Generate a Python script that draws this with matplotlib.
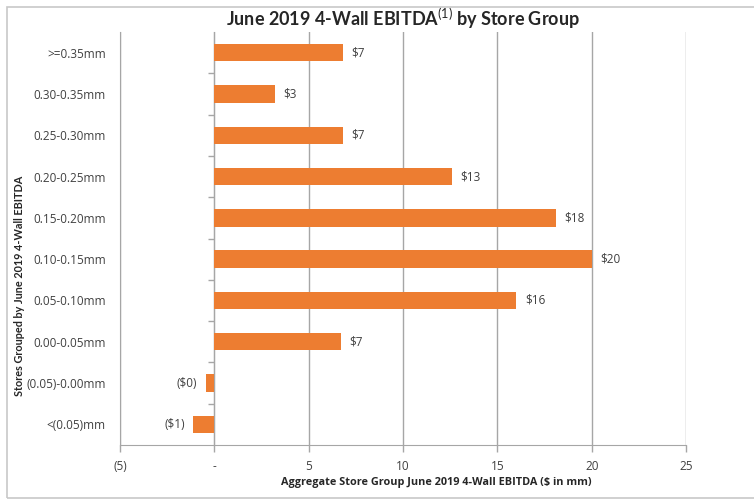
import matplotlib
matplotlib.use("Agg")
import matplotlib.pyplot as plt
from matplotlib.patches import Rectangle
from matplotlib.ticker import FuncFormatter

plt.rcParams['font.family'] = ['Open Sans', 'DejaVu Sans']
plt.rcParams['mathtext.fontset'] = 'custom'
plt.rcParams['mathtext.rm'] = 'Lato'
plt.rcParams['mathtext.bf'] = 'Lato:bold'

# store groups (top to bottom) and aggregate 4-wall EBITDA, $mm
groups = [">=0.35mm", "0.30-0.35mm", "0.25-0.30mm", "0.20-0.25mm", "0.15-0.20mm",
          "0.10-0.15mm", "0.05-0.10mm", "0.00-0.05mm", "(0.05)-0.00mm", "<(0.05)mm"]
ebitda = [6.8, 3.2, 6.8, 12.6, 18.1, 20.0, 16.0, 6.7, -0.45, -1.1]
x_ticks = [-5, 0, 5, 10, 15, 20, 25]

bar_color = '#ED7D31'
grid_color = '#A6A6A6'
text_color = '#404040'


def money(v):
    # accounting style: negatives in parentheses
    if v < 0:
        return "(${})".format(abs(round(v)))
    return "${}".format(round(v))


def tick_fmt(v, pos):
    if v < 0:
        return "({})".format(int(abs(v)))
    if v == 0:
        return "-"
    return str(int(v))


fig = plt.figure(figsize=(7.54, 5.0), dpi=100)
ax = fig.add_axes([0.159, 0.11, 0.751, 0.826])

# outer chart frame
fig.patches.append(Rectangle((0.009, 0.004), 0.995, 0.982, transform=fig.transFigure,
                             fill=False, edgecolor='#C8C8C8', linewidth=1.2))

pos = list(range(len(groups)))
ax.barh(pos, ebitda, height=0.42, color=bar_color, zorder=3)

for y, v in zip(pos, ebitda):
    if v < 0:
        ax.text(v - 0.45, y, money(v), ha='right', va='center', fontsize=8.5, color=text_color)
    else:
        ax.text(v + 0.45, y, money(v), ha='left', va='center', fontsize=8.5, color=text_color)

ax.set_xlim(-5, 25)
ax.set_ylim(len(groups) - 0.5, -0.5)
ax.set_xticks(x_ticks)
ax.xaxis.set_major_formatter(FuncFormatter(tick_fmt))
ax.set_yticks(pos)
ax.set_yticklabels(groups)

ax.grid(axis='x', color=grid_color, linewidth=1.0, zorder=0)
for s in ['top', 'right']:
    ax.spines[s].set_visible(False)
ax.spines['left'].set_color(grid_color)
ax.spines['bottom'].set_color(grid_color)

ax.tick_params(axis='y', length=0, pad=10, labelsize=8.5, labelcolor=text_color)
ax.tick_params(axis='x', length=5, width=1, color=grid_color, pad=6,
               labelsize=8.5, labelcolor=text_color)

# category axis crossing at zero, with ticks between groups
zero_frac = (0 - x_ticks[0]) / (x_ticks[-1] - x_ticks[0])
sec = ax.secondary_yaxis(zero_frac)
sec.spines['left'].set_color(grid_color)
sec.set_yticks([p + 0.5 for p in pos[:-1]])
sec.set_yticklabels([])
sec.tick_params(axis='y', length=4, width=1, color=grid_color, direction='out')

ax.set_title("June 2019 4-Wall EBITDA$^{(1)}$ by Store Group", fontsize=13,
             fontweight='bold', color='#262626', pad=2, family=['Lato', 'DejaVu Sans'])
ax.set_xlabel("Aggregate Store Group June 2019 4-Wall EBITDA ($ in mm)", fontsize=7.8,
              fontweight='bold', color='#262626')
ax.xaxis.set_label_coords(0.558, -0.078)
ax.set_ylabel("Stores Grouped by June 2019 4-Wall EBITDA", fontsize=7.8,
              fontweight='bold', color='#262626', family=['Lato', 'DejaVu Sans'])
ax.yaxis.set_label_coords(-0.168, 0.385)

fig.savefig("out.png", dpi=100)
